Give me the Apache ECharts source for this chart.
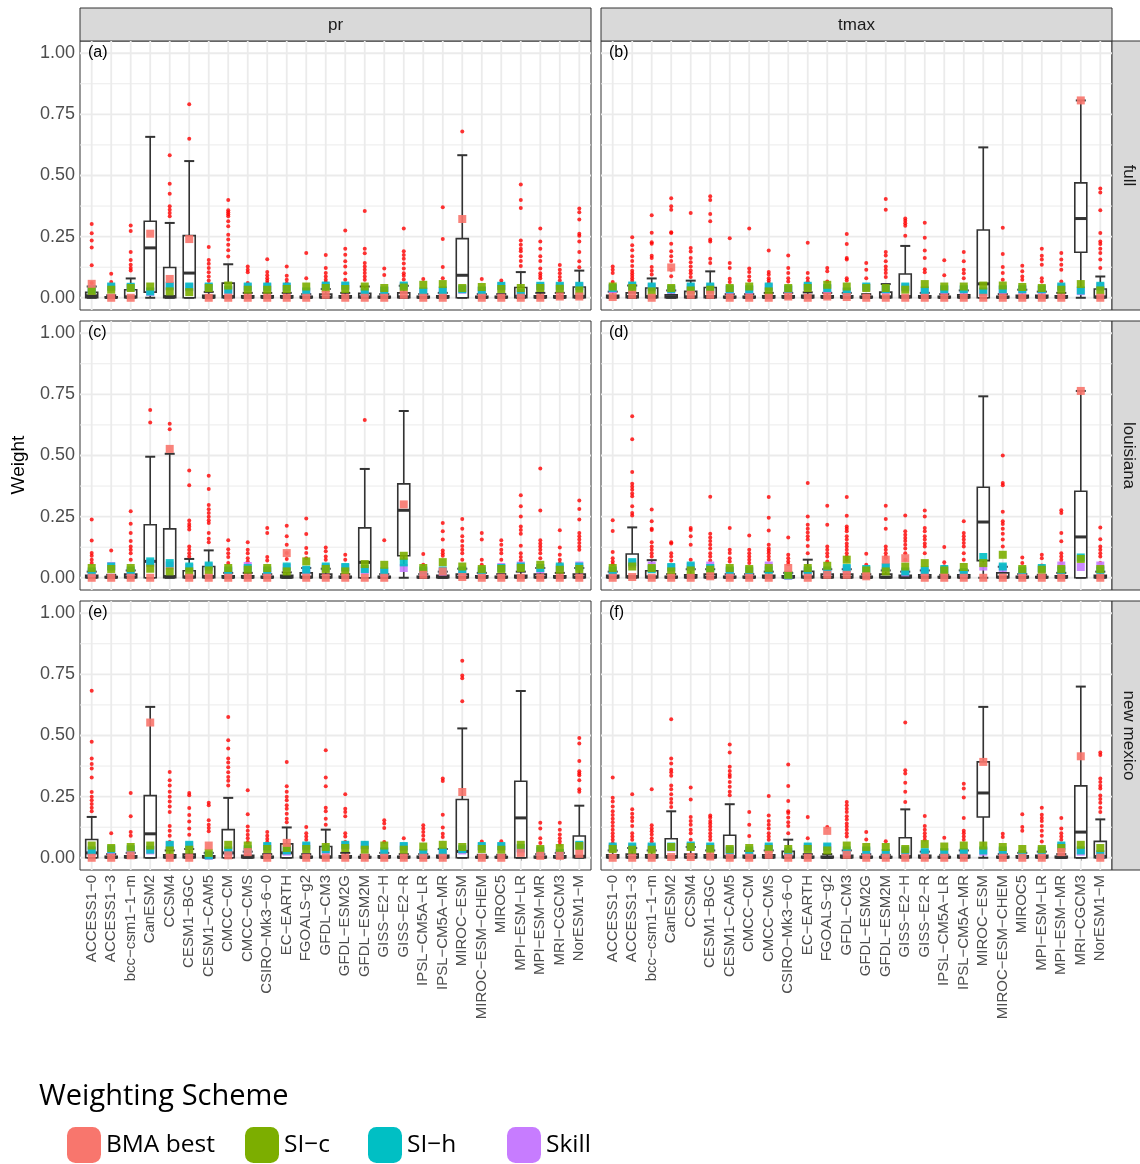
<!DOCTYPE html>
<html>
<head>
<meta charset="utf-8">
<script src="https://cdn.jsdelivr.net/npm/echarts@6/dist/echarts.min.js"></script>
<style>
html,body{margin:0;padding:0;background:#fff;}
#chart{width:1140px;height:1164px;}
</style>
</head>
<body>
<div id="chart"></div>
<script>
// Climate models on the x axis (same order in every facet)
const models = ['ACCESS1-0','ACCESS1-3','bcc-csm1-1-m','CanESM2','CCSM4','CESM1-BGC','CESM1-CAM5','CMCC-CM','CMCC-CMS','CSIRO-Mk3-6-0','EC-EARTH','FGOALS-g2','GFDL-CM3','GFDL-ESM2G','GFDL-ESM2M','GISS-E2-H','GISS-E2-R','IPSL-CM5A-LR','IPSL-CM5A-MR','MIROC-ESM','MIROC-ESM-CHEM','MIROC5','MPI-ESM-LR','MPI-ESM-MR','MRI-CGCM3','NorESM1-M'];
const variables = ['pr','tmax'];
const regions = ['full','louisiana','new mexico'];
const yTicks = [0, 0.25, 0.5, 0.75, 1];
const yGrid = [0, 0.125, 0.25, 0.375, 0.5, 0.625, 0.75, 0.875, 1];
const schemes = ['Skill','SI-h','SI-c','BMA best'];
const legendOrder = ['BMA best','SI-c','SI-h','Skill'];

// ---------- pr / full ----------  box stats: [lower whisker, q1, median, q3, upper whisker]
const prFullBox = [[0,0,0.008,0.022,0.046],[0,0,0.001,0.004,0.01],[0,0,0.004,0.033,0.079],[0,0.023,0.204,0.313,0.658],[0,0,0.005,0.124,0.306],[0,0,0.101,0.254,0.559],[0,0,0.002,0.01,0.024],[0,0,0.005,0.06,0.137],[0,0,0.002,0.008,0.02],[0,0,0.002,0.008,0.02],[0,0,0.002,0.008,0.02],[0,0,0.002,0.006,0.015],[0,0,0.003,0.015,0.036],[0,0,0.002,0.008,0.02],[0,0,0.004,0.018,0.046],[0,0,0.002,0.006,0.015],[0,0,0.004,0.02,0.049],[0,0,0.002,0.006,0.015],[0,0,0.002,0.008,0.02],[0,0,0.092,0.242,0.583],[0,0,0.002,0.006,0.015],[0,0,0.002,0.006,0.015],[0,0,0.006,0.042,0.105],[0,0,0.002,0.008,0.02],[0,0,0.002,0.008,0.02],[0,0,0.006,0.044,0.111]];
const prFullOut = [[0.302,0.264,0.234,0.206,0.133,0.06],[0.098,0.065],[0.296,0.273,0.187,0.154,0.135,0.122,0.112],[],[0.583,0.466,0.425,0.374,0.36,0.347,0.333],[0.791,0.65],[0.208,0.154,0.139,0.122,0.104,0.087,0.071,0.055],[0.4,0.358,0.35,0.342,0.333,0.313,0.292,0.258,0.238,0.217,0.194,0.169],[0.128,0.115,0.104,0.06],[0.158,0.105,0.092,0.08,0.07,0.06],[0.128,0.09,0.074,0.06],[0.183,0.08],[0.175,0.122,0.101,0.087,0.074,0.063],[0.275,0.2,0.176,0.149,0.128,0.1,0.074],[0.355,0.2,0.182,0.142,0.128,0.115,0.101,0.087,0.074],[0.12,0.093],[0.283,0.19,0.175,0.16,0.14,0.12,0.1,0.09,0.075],[0.077],[0.37,0.24,0.126,0.08],[0.68],[0.077],[0.071,0.06],[0.463,0.4,0.367,0.234,0.217,0.2,0.19,0.17,0.15,0.13],[0.283,0.23,0.2,0.17,0.15,0.12,0.1,0.09,0.08],[0.134,0.115,0.1,0.085,0.071],[0.365,0.35,0.32,0.262,0.254,0.23,0.187,0.149,0.125]];
const prFullBma = [0.057,0,0,0.262,0.077,0.24,0,0,0,0,0,0,0.012,0,0,0,0.012,0,0,0.322,0,0,0,0,0.005,0.005];
const prFullSic = [0.028,0.033,0.04,0.046,0.026,0.023,0.04,0.05,0.033,0.033,0.036,0.046,0.04,0.036,0.046,0.04,0.042,0.053,0.056,0.04,0.044,0.036,0.04,0.04,0.037,0.03];
const prFullSih = [0.033,0.046,0.045,0.026,0.049,0.046,0.046,0.033,0.046,0.046,0.046,0.026,0.05,0.05,0.023,0.03,0.05,0.026,0.03,0.035,0.03,0.049,0.02,0.049,0.049,0.049];
const prFullSkill = [0.03,0.043,0.042,0.024,0.046,0.043,0.043,0.03,0.043,0.043,0.043,0.024,0.047,0.047,0.021,0.028,0.047,0.024,0.028,0.033,0.028,0.046,0.018,0.046,0.046,0.046];

// ---------- tmax / full ----------
const txFullBox = [[0,0,0.003,0.01,0.025],[0,0,0.005,0.02,0.05],[0,0,0.005,0.04,0.079],[0,0,0.004,0.012,0.03],[0,0,0.004,0.026,0.07],[0,0,0.005,0.042,0.108],[0,0,0.002,0.006,0.015],[0,0,0.002,0.006,0.015],[0,0,0.002,0.008,0.02],[0,0,0.002,0.008,0.02],[0,0,0.003,0.01,0.022],[0,0,0.002,0.008,0.02],[0,0,0.002,0.008,0.02],[0,0,0.002,0.006,0.015],[0,0,0.004,0.023,0.056],[0,0,0.005,0.097,0.212],[0,0,0.002,0.008,0.02],[0,0,0.002,0.006,0.015],[0,0,0.003,0.012,0.03],[0,0,0.057,0.277,0.615],[0,0,0.002,0.006,0.015],[0,0,0.003,0.01,0.033],[0,0,0.003,0.01,0.025],[0,0,0.002,0.008,0.02],[0,0.186,0.324,0.47,0.807],[0,0,0.004,0.036,0.087]];
const txFullOut = [[0.128,0.115,0.101,0.064],[0.247,0.215,0.194,0.17,0.15,0.13,0.11,0.1,0.09,0.08,0.07],[0.337,0.266,0.227,0.221,0.172,0.163,0.126,0.11,0.095],[0.407,0.374,0.36,0.268,0.265,0.221,0.19,0.17,0.15,0.115,0.088],[0.347,0.204,0.189,0.163,0.145,0.128,0.112,0.1,0.085],[0.415,0.4,0.343,0.313,0.238,0.23,0.16,0.142],[0.243,0.142,0.122,0.078,0.064],[0.283,0.12,0.105,0.087,0.071],[0.193,0.105,0.095,0.08,0.071,0.06],[0.173,0.122,0.101,0.08,0.067],[0.225,0.101,0.08,0.067],[0.122,0.108,0.067],[0.261,0.22,0.163,0.156,0.08,0.071],[0.142,0.115,0.08],[0.404,0.36,0.187,0.173,0.149,0.128,0.115,0.101,0.085],[0.324,0.315,0.305,0.295,0.254],[0.307,0.245,0.193,0.163,0.117,0.104],[0.153,0.092],[0.187,0.149,0.115,0.1,0.08],[],[0.286,0.179,0.126,0.101,0.074],[0.131,0.108,0.087,0.074],[0.2,0.172,0.156,0.135,0.08,0.067],[0.183,0.156,0.135,0.115,0.067],[],[0.447,0.43,0.358,0.265,0.23,0.22,0.2,0.183,0.156,0.122]];
const txFullBma = [0.003,0.012,0,0.124,0.012,0.012,0,0,0,0.005,0,0.005,0.003,0,0,0,0,0,0,0,0,0,0,0,0.807,0];
const txFullSic = [0.046,0.04,0.026,0.04,0.03,0.033,0.04,0.046,0.026,0.04,0.04,0.053,0.046,0.04,0.04,0.033,0.056,0.046,0.046,0.05,0.05,0.044,0.04,0.033,0.056,0.03];
const txFullSih = [0.04,0.05,0.046,0.035,0.046,0.046,0.035,0.035,0.046,0.035,0.049,0.04,0.026,0.046,0.035,0.046,0.03,0.035,0.035,0.026,0.035,0.035,0.035,0.046,0.03,0.049];
const txFullSkill = [0.036,0.046,0.042,0.032,0.042,0.042,0.032,0.032,0.042,0.032,0.045,0.036,0.023,0.042,0.032,0.042,0.027,0.032,0.032,0.023,0.032,0.032,0.032,0.042,0.027,0.045];

// ---------- pr / louisiana ----------
const prLaBox = [[0,0,0.003,0.01,0.025],[0,0,0.002,0.005,0.012],[0,0,0.004,0.015,0.03],[0,0,0.067,0.217,0.495],[0,0,0.005,0.2,0.507],[0,0,0.004,0.029,0.077],[0,0,0.005,0.046,0.112],[0,0,0.002,0.008,0.02],[0,0,0.002,0.008,0.02],[0,0,0.002,0.006,0.015],[0,0,0.003,0.01,0.022],[0,0,0.003,0.02,0.04],[0,0,0.003,0.015,0.037],[0,0,0.002,0.006,0.015],[0,0,0.063,0.204,0.445],[0,0,0.002,0.006,0.015],[0,0.09,0.276,0.384,0.682],[0,0,0.002,0.006,0.015],[0,0,0.003,0.01,0.025],[0,0,0.003,0.015,0.037],[0,0,0.002,0.008,0.02],[0,0,0.002,0.006,0.015],[0,0,0.003,0.01,0.025],[0,0,0.003,0.015,0.04],[0,0,0.002,0.008,0.02],[0,0,0.003,0.015,0.04]];
const prLaOut = [[0.238,0.152,0.101,0.09,0.074,0.06],[0.112],[0.272,0.221,0.183,0.15,0.128,0.115,0.1,0.074],[0.686,0.635],[0.63,0.607],[0.439,0.378,0.234,0.22,0.21,0.197,0.128,0.115,0.1,0.087],[0.417,0.363,0.298,0.28,0.265,0.25,0.235,0.224,0.183,0.16,0.145],[0.153,0.117,0.1,0.085,0.06],[0.145,0.115,0.1,0.08,0.067,0.053],[0.204,0.183,0.085,0.071],[0.213,0.17,0.135,0.101,0.077],[0.242,0.179,0.122,0.101,0.08],[0.124,0.108,0.087,0.074],[0.094,0.074],[0.645],[0.153],[],[0.097,0.053],[0.224,0.19,0.156,0.112,0.1,0.09],[0.24,0.2,0.17,0.15,0.13,0.115,0.1,0.074],[0.183,0.156,0.074,0.053],[0.153,0.135,0.115,0.1,0.074],[0.337,0.292,0.251,0.21,0.195,0.18,0.131,0.1,0.085,0.071],[0.447,0.275,0.153,0.14,0.128,0.115,0.1,0.08],[0.194,0.124,0.094,0.074,0.06],[0.316,0.281,0.238,0.183,0.17,0.156,0.142,0.128,0.115]];
const prLaBma = [0,0,0,0,0.527,0,0,0,0,0,0.101,0,0,0,0,0,0.3,0.012,0.026,0.003,0,0,0,0,0,0];
const prLaSic = [0.04,0.036,0.04,0.037,0.026,0.026,0.03,0.04,0.033,0.04,0.026,0.067,0.036,0.026,0.056,0.053,0.09,0.04,0.064,0.046,0.036,0.036,0.04,0.053,0.033,0.036];
const prLaSih = [0.026,0.046,0.03,0.067,0.06,0.046,0.05,0.03,0.04,0.03,0.046,0.033,0.046,0.044,0.036,0.026,0.063,0.03,0.03,0.03,0.03,0.04,0.046,0.04,0.046,0.046];
const prLaSkill = [0.02,0.048,0.025,0.06,0.05,0.04,0.045,0.025,0.048,0.025,0.04,0.03,0.04,0.04,0.03,0.02,0.04,0.025,0.025,0.025,0.025,0.044,0.05,0.035,0.04,0.05];

// ---------- tmax / louisiana ----------
const txLaBox = [[0,0,0.003,0.01,0.025],[0,0,0.005,0.097,0.206],[0,0,0.004,0.029,0.072],[0,0,0.002,0.006,0.015],[0,0,0.003,0.012,0.035],[0,0,0.003,0.015,0.035],[0,0,0.002,0.006,0.015],[0,0,0.002,0.006,0.015],[0,0,0.003,0.01,0.025],[0,0,0.003,0.008,0.02],[0,0,0.004,0.026,0.074],[0,0,0.003,0.015,0.035],[0,0,0.003,0.015,0.035],[0,0,0.002,0.006,0.015],[0,0,0.003,0.015,0.03],[0,0,0.003,0.01,0.025],[0,0,0.003,0.012,0.03],[0,0,0.002,0.005,0.012],[0,0,0.003,0.012,0.03],[0,0.07,0.228,0.37,0.742],[0,0,0.003,0.02,0.045],[0,0,0.002,0.006,0.015],[0,0,0.002,0.005,0.012],[0,0,0.002,0.008,0.02],[0,0,0.167,0.354,0.764],[0,0,0.003,0.01,0.025]];
const txLaOut = [[0.235,0.191,0.105,0.08,0.067,0.055],[0.66,0.566,0.433,0.384,0.372,0.36,0.345,0.333,0.292,0.265,0.255],[0.279,0.231,0.2,0.195,0.145,0.128,0.115,0.1,0.087],[0.145,0.14,0.1,0.087,0.071],[0.204,0.195,0.17,0.135,0.074],[0.331,0.18,0.165,0.15,0.135,0.12,0.1,0.087,0.071],[0.204,0.115,0.101,0.08,0.067],[0.173,0.115,0.1,0.087,0.074,0.06],[0.33,0.245,0.193,0.135,0.12,0.11,0.1,0.087,0.074],[0.165,0.094,0.08,0.067,0.055],[0.388,0.251,0.217,0.2,0.185,0.17,0.156,0.13,0.1],[0.295,0.217,0.128,0.115,0.1,0.087,0.067],[0.33,0.254,0.21,0.2,0.19,0.17,0.156,0.14,0.128,0.115,0.1,0.087,0.074],[0.098,0.053],[0.295,0.24,0.2,0.128,0.115,0.1,0.087,0.08],[0.255,0.19,0.176,0.163,0.15,0.135,0.12,0.1,0.074],[0.275,0.251,0.204,0.19,0.17,0.156,0.14,0.128,0.1],[0.126,0.063,0.047],[0.231,0.183,0.17,0.156,0.142,0.128,0.1,0.074],[],[0.5,0.388,0.378,0.27,0.231,0.22,0.2,0.18,0.156,0.128],[0.083,0.06],[0.094,0.08,0.05],[0.276,0.265,0.183,0.149,0.1,0.087,0.074,0.06,0.047],[],[0.206,0.158,0.128,0.115,0.1,0.087,0.06]];
const txLaBma = [0,0.003,0,0,0,0.006,0,0,0,0.04,0,0.012,0.012,0.006,0.074,0.08,0,0,0,0,0,0,0,0,0.764,0];
const txLaSic = [0.04,0.046,0.04,0.026,0.03,0.033,0.04,0.036,0.04,0.012,0.04,0.049,0.074,0.03,0.026,0.046,0.06,0.03,0.044,0.06,0.094,0.036,0.033,0.036,0.077,0.036];
const txLaSih = [0.03,0.064,0.035,0.044,0.05,0.04,0.03,0.03,0.03,0.01,0.03,0.03,0.04,0.036,0.044,0.026,0.03,0.036,0.023,0.085,0.046,0.03,0.04,0.03,0.083,0.03];
const txLaSkill = [0.025,0.058,0.05,0.04,0.045,0.05,0.025,0.025,0.05,0.008,0.025,0.025,0.035,0.03,0.04,0.022,0.025,0.03,0.02,0.046,0.04,0.025,0.035,0.05,0.044,0.05];

// ---------- pr / new mexico ----------
const prNmBox = [[0,0,0.02,0.075,0.167],[0,0,0.002,0.006,0.015],[0,0,0.003,0.008,0.02],[0,0,0.098,0.254,0.617],[0,0,0.003,0.012,0.03],[0,0,0.004,0.015,0.036],[0,0,0.003,0.008,0.02],[0,0,0.02,0.115,0.245],[0,0,0.003,0.01,0.025],[0,0,0.002,0.006,0.015],[0,0,0.02,0.057,0.124],[0,0,0.002,0.006,0.015],[0,0,0.004,0.046,0.115],[0,0,0.002,0.008,0.02],[0,0,0.002,0.005,0.012],[0,0,0.002,0.008,0.02],[0,0,0.002,0.006,0.015],[0,0,0.002,0.006,0.015],[0,0,0.003,0.01,0.036],[0,0,0.026,0.238,0.529],[0,0,0.002,0.005,0.012],[0,0,0.002,0.005,0.012],[0,0,0.163,0.313,0.682],[0,0,0.002,0.006,0.015],[0,0,0.003,0.008,0.02],[0,0,0.006,0.089,0.213]];
const prNmOut = [[0.683,0.474,0.406,0.383,0.365,0.328,0.269,0.25,0.235,0.22,0.205,0.19],[0.1],[0.265,0.17,0.105,0.09],[],[0.351,0.317,0.296,0.27,0.25,0.23,0.21,0.187,0.13,0.11,0.09,0.064],[0.265,0.256,0.204,0.175,0.148,0.12,0.094],[0.225,0.215,0.153,0.135,0.122,0.108],[0.576,0.481,0.447,0.406,0.39,0.37,0.35,0.33,0.315,0.296],[0.276,0.178,0.128,0.11,0.094,0.08,0.064],[0.105,0.09,0.077,0.064],[0.392,0.292,0.27,0.25,0.235,0.215,0.2,0.18,0.16,0.145],[0.126,0.1,0.087,0.074],[0.44,0.328,0.292,0.205,0.19,0.16,0.135],[0.26,0.2,0.187,0.17,0.1,0.087,0.064],[0.06],[0.153,0.14,0.122,0.064],[0.08],[0.133,0.12,0.105,0.09,0.074],[0.324,0.314,0.176,0.124,0.098,0.085],[0.806,0.745,0.734,0.64],[0.067],[0.068],[],[0.143,0.12,0.08,0.06],[0.143,0.115,0.095,0.08,0.067,0.053],[0.49,0.467,0.396,0.354,0.345,0.337,0.317,0.28,0.27]];
const prNmBma = [0,0,0.01,0.553,0,0,0.05,0.01,0.023,0,0.061,0,0,0,0,0,0,0,0,0.269,0,0,0.02,0.008,0.008,0.016];
const prNmSic = [0.05,0.04,0.044,0.05,0.03,0.033,0.02,0.053,0.05,0.036,0.04,0.036,0.044,0.04,0.033,0.05,0.033,0.046,0.053,0.044,0.036,0.033,0.053,0.036,0.04,0.048];
const prNmSih = [0.03,0.035,0.035,0.033,0.053,0.053,0.01,0.03,0.035,0.048,0.03,0.05,0.035,0.053,0.053,0.026,0.048,0.02,0.026,0.035,0.048,0.048,0.04,0.03,0.02,0.053];
const prNmSkill = [0.025,0.03,0.03,0.03,0.05,0.05,0.008,0.025,0.03,0.045,0.025,0.046,0.03,0.05,0.05,0.022,0.045,0.018,0.022,0.03,0.045,0.045,0.035,0.025,0.018,0.05];

// ---------- tmax / new mexico ----------
const txNmBox = [[0,0,0.003,0.012,0.03],[0,0,0.003,0.015,0.04],[0,0,0.003,0.012,0.03],[0,0,0.005,0.078,0.19],[0,0,0.003,0.015,0.044],[0,0,0.003,0.012,0.03],[0,0,0.005,0.092,0.219],[0,0,0.003,0.01,0.028],[0,0,0.003,0.012,0.03],[0,0,0.004,0.026,0.074],[0,0,0.002,0.006,0.015],[0,0,0.002,0.006,0.015],[0,0,0.003,0.01,0.03],[0,0,0.002,0.006,0.015],[0,0,0.002,0.005,0.012],[0,0,0.005,0.082,0.198],[0,0,0.003,0.01,0.025],[0,0,0.002,0.005,0.012],[0,0,0.003,0.01,0.03],[0,0.167,0.265,0.392,0.617],[0,0,0.002,0.006,0.015],[0,0,0.002,0.008,0.02],[0,0,0.003,0.01,0.025],[0,0,0.002,0.006,0.015],[0,0,0.105,0.294,0.7],[0,0,0.005,0.067,0.157]];
const txNmOut = [[0.328,0.245,0.23,0.21,0.19,0.175,0.16,0.145,0.13,0.115,0.1,0.087,0.074,0.06],[0.26,0.198,0.18,0.165,0.15,0.13,0.1,0.087,0.074],[0.28,0.133,0.12,0.108,0.095,0.08,0.067],[0.566,0.406,0.385,0.36,0.35,0.335,0.296,0.28,0.26,0.24,0.225,0.208],[0.287,0.238,0.167,0.15,0.135,0.115,0.1,0.074],[0.173,0.165,0.15,0.14,0.128,0.115,0.1,0.087,0.074],[0.463,0.43,0.372,0.355,0.34,0.33,0.31,0.29,0.27,0.256],[0.187,0.135,0.089],[0.253,0.173,0.15,0.135,0.12,0.1,0.087,0.074],[0.381,0.294,0.232,0.19,0.183,0.165,0.145,0.13,0.1],[0.167,0.08],[0.126],[0.228,0.215,0.2,0.187,0.17,0.156,0.14,0.128,0.115,0.1,0.087],[0.105,0.075],[0.068],[0.553,0.358,0.345,0.307,0.27,0.228],[0.171,0.13,0.115,0.1,0.087,0.074],[0.082],[0.303,0.283,0.246,0.163,0.11,0.1,0.087,0.074],[],[0.098,0.085],[0.178,0.126,0.11],[0.205,0.176,0.163,0.15,0.13,0.11,0.09,0.067],[0.163,0.12,0.1,0.087,0.074],[],[0.43,0.42,0.324,0.31,0.295,0.283,0.255,0.24,0.225,0.205,0.187]];
const txNmBma = [0,0,0,0.003,0.003,0.005,0,0,0.012,0,0,0.11,0.012,0,0,0,0,0,0,0.392,0,0,0,0.023,0.415,0];
const txNmSic = [0.036,0.033,0.033,0.044,0.044,0.036,0.036,0.04,0.036,0.036,0.036,0.03,0.05,0.044,0.044,0.036,0.056,0.046,0.05,0.05,0.044,0.036,0.036,0.04,0.053,0.04];
const txNmSih = [0.046,0.046,0.046,0.046,0.05,0.046,0.03,0.03,0.046,0.025,0.046,0.046,0.03,0.03,0.02,0.03,0.023,0.023,0.023,0.03,0.03,0.015,0.03,0.05,0.03,0.015];
const txNmSkill = [0.042,0.042,0.042,0.042,0.046,0.042,0.025,0.025,0.042,0.02,0.042,0.042,0.025,0.025,0.018,0.025,0.02,0.02,0.02,0.025,0.025,0.012,0.025,0.046,0.025,0.012];

// ---------- layout ----------
const colLeft = [80, 601];
const rowTop = [41, 321, 601];
const panelW = 511, panelH = 269;
const FONT = "'Liberation Sans', Arial, sans-serif";
const LEGEND_FONT = "'Open Sans', 'Noto Sans', sans-serif";
const colors = {'BMA best':'#F8766D','SI-c':'#7CAE00','SI-h':'#00BFC4','Skill':'#C77CFF'};
const dash = s => s.replace(/-/g, '\u2212');

const panels = [
  {row:0,col:0,tag:'(a)',box:prFullBox,out:prFullOut,s:{'BMA best':prFullBma,'SI-c':prFullSic,'SI-h':prFullSih,'Skill':prFullSkill}},
  {row:0,col:1,tag:'(b)',box:txFullBox,out:txFullOut,s:{'BMA best':txFullBma,'SI-c':txFullSic,'SI-h':txFullSih,'Skill':txFullSkill}},
  {row:1,col:0,tag:'(c)',box:prLaBox,out:prLaOut,s:{'BMA best':prLaBma,'SI-c':prLaSic,'SI-h':prLaSih,'Skill':prLaSkill}},
  {row:1,col:1,tag:'(d)',box:txLaBox,out:txLaOut,s:{'BMA best':txLaBma,'SI-c':txLaSic,'SI-h':txLaSih,'Skill':txLaSkill}},
  {row:2,col:0,tag:'(e)',box:prNmBox,out:prNmOut,s:{'BMA best':prNmBma,'SI-c':prNmSic,'SI-h':prNmSih,'Skill':prNmSkill}},
  {row:2,col:1,tag:'(f)',box:txNmBox,out:txNmOut,s:{'BMA best':txNmBma,'SI-c':txNmSic,'SI-h':txNmSih,'Skill':txNmSkill}}
];

const idx = models.map((m, i) => i);

// horizontal grid line across the whole panel
function renderHLine(params, api) {
  const cs = params.coordSys;
  const v = api.value(1);
  const y = api.coord([0, v])[1];
  const major = Math.abs(v * 4 - Math.round(v * 4)) < 1e-6;
  return {type:'line', shape:{x1:cs.x, y1:y, x2:cs.x + cs.width, y2:y},
          style:{stroke:'#ebebeb', lineWidth: major ? 1.8 : 1}, silent:true};
}
// vertical grid line at a model position
function renderVLine(params, api) {
  const cs = params.coordSys;
  const x = api.coord([api.value(0), 0])[0];
  return {type:'line', shape:{x1:x, y1:cs.y, x2:x, y2:cs.y + cs.height},
          style:{stroke:'#ebebeb', lineWidth:1.8}, silent:true};
}
// box, whiskers with caps and median
function renderBox(params, api) {
  const i = api.value(0);
  const lo = api.coord([i, api.value(1)]);
  const q1 = api.coord([i, api.value(2)]);
  const md = api.coord([i, api.value(3)]);
  const q3 = api.coord([i, api.value(4)]);
  const hi = api.coord([i, api.value(5)]);
  const x = lo[0], hw = 6, cw = 5;
  const ln = {stroke:'#333333', lineWidth:1.6};
  return {type:'group', children:[
    {type:'line', shape:{x1:x, y1:q3[1], x2:x, y2:hi[1]}, style:ln},
    {type:'line', shape:{x1:x, y1:lo[1], x2:x, y2:q1[1]}, style:ln},
    {type:'line', shape:{x1:x - cw, y1:hi[1], x2:x + cw, y2:hi[1]}, style:{stroke:'#333333', lineWidth:2}},
    {type:'line', shape:{x1:x - cw, y1:lo[1], x2:x + cw, y2:lo[1]}, style:{stroke:'#333333', lineWidth:2}},
    {type:'rect', shape:{x:x - hw, y:q3[1], width:2 * hw, height:q1[1] - q3[1]},
     style:{fill:'#ffffff', stroke:'#333333', lineWidth:1.6}},
    {type:'line', shape:{x1:x - hw, y1:md[1], x2:x + hw, y2:md[1]}, style:{stroke:'#333333', lineWidth:3}}
  ]};
}

const grids = [], xAxes = [], yAxes = [], series = [];
panels.forEach((p, k) => {
  grids.push({left: colLeft[p.col], top: rowTop[p.row], width: panelW, height: panelH,
              show: true, backgroundColor: '#ffffff', borderColor: '#333333', borderWidth: 1});
  const bottom = p.row === 2, left = p.col === 0;
  xAxes.push({type:'value', gridIndex:k, min:-0.6, max:25.6,
    axisLine:{show:false}, splitLine:{show:false},
    axisTick:{show:bottom, customValues:idx, length:3, lineStyle:{color:'#333333'}},
    axisLabel:{show:bottom, customValues:idx, rotate:90, margin:5, fontSize:15, color:'#4d4d4d',
      fontFamily:FONT, formatter: v => dash(models[v] || '')}});
  yAxes.push({type:'value', gridIndex:k, min:-0.05, max:1.05,
    axisLine:{show:false}, splitLine:{show:false},
    axisTick:{show:left, customValues:yTicks, length:3, lineStyle:{color:'#333333'}},
    axisLabel:{show:left, customValues:yTicks, margin:5, fontSize:18, color:'#4d4d4d',
      fontFamily:FONT, formatter: v => v.toFixed(2)}});

  series.push({type:'custom', xAxisIndex:k, yAxisIndex:k, z:1, silent:true,
    renderItem: renderHLine, data: yGrid.map(v => [0, v])});
  series.push({type:'custom', xAxisIndex:k, yAxisIndex:k, z:1, silent:true,
    renderItem: renderVLine, data: idx.map(i => [i, 0])});
  series.push({type:'custom', xAxisIndex:k, yAxisIndex:k, z:3, silent:true,
    renderItem: renderBox, encode:{x:0, y:[1,2,3,4,5]},
    data: p.box.map((b, i) => [i].concat(b))});
  const outs = [];
  p.out.forEach((arr, i) => arr.forEach(v => outs.push([i, v])));
  series.push({type:'scatter', name:'outlier', xAxisIndex:k, yAxisIndex:k, z:4, silent:true,
    symbol:'circle', symbolSize:4, itemStyle:{color:'#ff0000'}, data: outs});
  schemes.forEach((name, j) => {
    series.push({type:'scatter', name:name, xAxisIndex:k, yAxisIndex:k, z:5 + j, silent:true,
      symbol:'rect', symbolSize:[8, 8], itemStyle:{color:colors[name], opacity:0.9},
      data: p.s[name].map((v, i) => [i, v])});
  });
});

// facet strips, panel tags and axis title
const graphics = [];
variables.forEach((v, c) => {
  graphics.push({type:'rect', shape:{x:colLeft[c], y:8, width:panelW, height:33},
    style:{fill:'#d9d9d9', stroke:'#333333', lineWidth:1}});
  graphics.push({type:'text', x:colLeft[c] + panelW / 2, y:25,
    style:{text:v, fontSize:17, fontFamily:FONT, fill:'#1a1a1a', textAlign:'center', textVerticalAlign:'middle'}});
});
regions.forEach((r, i) => {
  graphics.push({type:'rect', shape:{x:1112, y:rowTop[i], width:40, height:panelH},
    style:{fill:'#d9d9d9', stroke:'#333333', lineWidth:1}});
  graphics.push({type:'text', x:1129, y:rowTop[i] + panelH / 2, rotation:-Math.PI / 2,
    style:{text:r, fontSize:17, fontFamily:FONT, fill:'#1a1a1a', textAlign:'center', textVerticalAlign:'middle'}});
});
panels.forEach(p => {
  graphics.push({type:'text', x:colLeft[p.col] + 8, y:rowTop[p.row] + 12, z:10,
    style:{text:p.tag, fontSize:16, fontFamily:FONT, fill:'#000000', textAlign:'left', textVerticalAlign:'middle'}});
});
graphics.push({type:'text', x:19, y:465, rotation:Math.PI / 2,
  style:{text:'Weight', fontSize:19, fontFamily:FONT, fill:'#000000', textAlign:'center', textVerticalAlign:'middle'}});
graphics.push({type:'text', x:39, y:1097,
  style:{text:'Weighting Scheme', fontSize:29, fontFamily:LEGEND_FONT, fill:'#000000', textAlign:'left', textVerticalAlign:'middle'}});

const legendLeft = [67, 245, 368, 507];
const legends = legendOrder.map((name, j) => ({
  left: legendLeft[j], top: 1127, data:[name], icon:'roundRect', itemWidth:34, itemHeight:36,
  itemGap:0, selectedMode:false, padding:0,
  itemStyle:{opacity:1},
  textStyle:{fontSize:24.5, fontFamily:LEGEND_FONT, color:'#000000', padding:[2,0,0,0]},
  formatter: n => dash(n)
}));

const chart = echarts.init(document.getElementById('chart'), null, {renderer:'canvas'});
chart.setOption({
  animation:false,
  backgroundColor:'#ffffff',
  grid: grids, xAxis: xAxes, yAxis: yAxes,
  legend: legends,
  graphic: graphics,
  series: series
});
</script>
</body>
</html>
